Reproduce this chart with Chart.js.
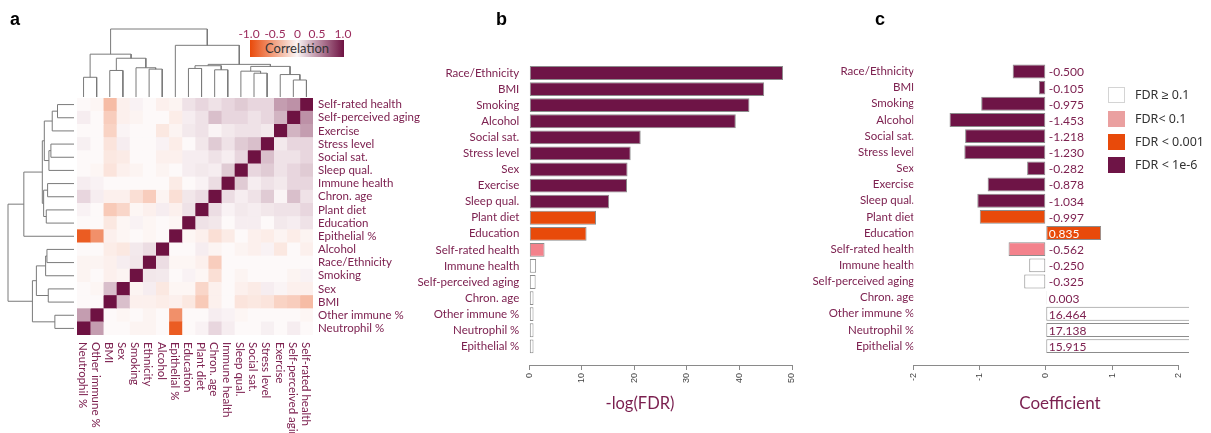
<!DOCTYPE html>
<html><head><meta charset="utf-8">
<script src="https://cdn.jsdelivr.net/npm/chart.js@4.4.1/dist/chart.umd.min.js"></script>
<style>
body{margin:0;background:#fff;width:1211px;height:433px;overflow:hidden;position:relative;font-family:Lato,sans-serif;}
canvas{position:absolute;}
.t{position:absolute;white-space:nowrap;line-height:1;}
.letter{font-family:"Liberation Sans",Arial,sans-serif;font-weight:bold;font-size:18px;color:#000;}
.axt{font-family:Lato,sans-serif;color:#7a1f4f;transform:translate(-50%,-50%);}
.cbt{font-family:Lato,sans-serif;font-size:12px;color:#9b2a5c;transform:translateX(-50%);}
.lgbox{position:absolute;width:17px;height:16px;box-sizing:border-box;}
.lgtxt{position:absolute;font-family:"Noto Sans",sans-serif;font-size:12.5px;color:#333;line-height:16px;white-space:nowrap;}
</style></head><body>
<canvas id="dTop" width="256" height="88" style="left:67px;top:19px"></canvas>
<canvas id="dLeft" width="84" height="257" style="left:0px;top:88px"></canvas>
<canvas id="heat" width="372" height="355" style="left:60px;top:78px"></canvas>
<canvas id="cb" width="410" height="433" style="left:400px;top:0px"></canvas>
<canvas id="cc" width="400" height="433" style="left:800px;top:0px"></canvas>

<div class="t letter" style="left:10px;top:10px">a</div>
<div class="t letter" style="left:496px;top:10px">b</div>
<div class="t letter" style="left:875px;top:10px">c</div>

<div style="position:absolute;left:250px;top:40px;width:94px;height:17px;background:linear-gradient(to right,rgb(233,74,10),rgb(250,244,244) 50%,rgb(110,18,66));"></div>
<div class="t" style="left:250px;top:42px;width:94px;text-align:center;font-family:Lato,sans-serif;font-size:13px;color:#333;">Correlation</div>
<div class="t cbt" style="left:249px;top:28px">-1.0</div>
<div class="t cbt" style="left:275px;top:28px">-0.5</div>
<div class="t cbt" style="left:297.5px;top:28px">0</div>
<div class="t cbt" style="left:317px;top:28px">0.5</div>
<div class="t cbt" style="left:343px;top:28px">1.0</div>

<div class="t axt" style="left:640px;top:403px;font-size:16.5px">-log(FDR)</div>
<div class="t axt" style="left:1060px;top:402px;font-size:17px">Coefficient</div>

<div class="lgbox" style="left:1108px;top:87px;background:#fff;border:1px solid #d4d4d4"></div>
<div class="lgtxt" style="left:1135px;top:87px">FDR ≥ 0.1</div>
<div class="lgbox" style="left:1108px;top:111px;background:#eaa0a0"></div>
<div class="lgtxt" style="left:1135px;top:111px">FDR&lt; 0.1</div>
<div class="lgbox" style="left:1108px;top:134px;background:#e84a0a"></div>
<div class="lgtxt" style="left:1135px;top:134px">FDR &lt; 0.001</div>
<div class="lgbox" style="left:1108px;top:157px;background:#6e1446"></div>
<div class="lgtxt" style="left:1135px;top:157px">FDR &lt; 1e-6</div>

<script>
// ---------- DATA ----------
// heatmap column order (left to right)
const heatVars = ['Neutrophil %','Other immune %','BMI','Sex','Smoking','Ethnicity','Alcohol','Epithelial %','Education','Plant diet','Chron. age','Immune health','Sleep qual.','Social sat.','Stress level','Exercise','Self-perceived aging','Self-rated health'];
// heatmap row labels (top to bottom)
const heatRowLabels = ['Self-rated health','Self-perceived aging','Exercise','Stress level','Social sat.','Sleep qual.','Immune health','Chron. age','Plant diet','Education','Epithelial %','Alcohol','Race/Ethnicity','Smoking','Sex','BMI','Other immune %','Neutrophil %'];
// correlation matrix, rows and columns in heatVars order
const corr = [
 [1,0.40,0,0,-0.03,-0.03,0,-0.90,0,0.03,0.15,0.05,0,0,0.04,0,0.05,0],
 [0.40,1,0,-0.02,0,-0.03,0,-0.60,0,0,0.05,0.03,-0.02,0,0,0,0,-0.02],
 [0,0,1,0.25,-0.05,-0.05,-0.07,-0.05,-0.10,-0.27,-0.05,0,-0.12,-0.10,-0.12,-0.22,-0.25,-0.35],
 [0,-0.02,0.25,1,-0.03,0.05,-0.10,-0.02,-0.02,-0.20,-0.05,0,-0.05,-0.08,0.05,0.02,-0.05,-0.05],
 [-0.03,0,-0.05,-0.03,1,0.08,0.07,0,0.03,-0.02,-0.15,0,-0.03,0,0,0,-0.03,0.03],
 [-0.03,-0.03,-0.05,0.05,0.08,1,0.12,-0.02,-0.02,-0.05,-0.25,0,0,0,0,0,0,0],
 [0,0,-0.07,-0.10,0.07,0.12,1,0,0,0.05,-0.03,0,-0.03,-0.05,0.03,-0.10,0,-0.05],
 [-0.90,-0.60,-0.05,-0.02,0,-0.02,0,1,-0.02,-0.05,-0.15,-0.08,0,-0.05,-0.07,-0.03,-0.07,-0.03],
 [0,0,-0.10,-0.02,0.03,-0.02,0,-0.02,1,0.10,0.08,0,0.05,0.05,0,0.07,0.05,0.10],
 [0.03,0,-0.27,-0.20,-0.02,-0.05,0.05,-0.05,0.10,1,0.12,0.03,0.07,0.05,0.08,0.10,0.10,0.15],
 [0.15,0.05,-0.05,-0.05,-0.15,-0.25,-0.03,-0.15,0.08,0.12,1,0.12,0.05,0.10,0.20,0.02,0.25,0.10],
 [0.05,0.03,0,0,0,0,0,-0.08,0,0.03,0.12,1,0.20,0.05,0.10,0.07,0.15,0.15],
 [0,-0.02,-0.12,-0.05,-0.03,0,-0.03,0,0.05,0.07,0.05,0.20,1,0.15,0.20,0.10,0.15,0.20],
 [0,0,-0.10,-0.08,0,0,-0.05,-0.05,0.05,0.05,0.10,0.05,0.15,1,0.25,0.10,0.10,0.15],
 [0.04,0,-0.12,0.05,0,0,0.03,-0.07,0,0.08,0.20,0.10,0.20,0.25,1,0.07,0.15,0.15],
 [0,0,-0.22,0.02,0,0,-0.10,-0.03,0.07,0.10,0.02,0.07,0.10,0.10,0.07,1,0.30,0.40],
 [0.05,0,-0.25,-0.05,-0.03,0,0,-0.07,0.05,0.10,0.25,0.15,0.15,0.10,0.15,0.30,1,0.45],
 [0,-0.02,-0.35,-0.05,0.03,0,-0.05,-0.03,0.10,0.15,0.10,0.15,0.20,0.15,0.15,0.40,0.45,1]
];
// hierarchical clustering linkage: [childA, childB, height]; ids 0-17 = heatVars, 18+ = earlier merges
const linkage = [
 [16,17,0.25],[0,1,0.29],[15,18,0.33],[13,14,0.35],[12,21,0.38],[2,3,0.39],
 [10,11,0.40],[5,6,0.41],[8,9,0.42],[4,25,0.43],[22,20,0.45],[26,24,0.46],
 [29,28,0.48],[23,27,0.57],[19,31,0.63],[7,30,0.76],[32,33,1.00]
];
// panel b / c
const fdrLabels = ['Race/Ethnicity','BMI','Smoking','Alcohol','Social sat.','Stress level','Sex','Exercise','Sleep qual.','Plant diet','Education','Self-rated health','Immune health','Self-perceived aging','Chron. age','Other immune %','Neutrophil %','Epithelial %'];
const negLogFDR = [48.3,44.7,41.9,39.3,21.2,19.3,18.7,18.6,15.2,12.7,10.9,2.9,1.3,1.2,0.8,0.8,0.8,0.8];
const coefficients = [-0.500,-0.105,-0.975,-1.453,-1.218,-1.230,-0.282,-0.878,-1.034,-0.997,0.835,-0.562,-0.250,-0.325,0.003,16.464,17.138,15.915];
const xTicksB = [0,10,20,30,40,50];
const xTicksC = [-2,-1,0,1,2];

// ---------- STYLE ----------
const labelColor = '#7d2150';
const PURPLE='#6e1446', ORANGE='#e84a0a', PINK='#f3828c', WHITE='#ffffff';
function fdrColor(nl){ const f=Math.exp(-nl); if(f<1e-6) return PURPLE; if(f<0.001) return ORANGE; if(f<0.1) return PINK; return WHITE; }
function corrColor(v){
  const w=[253,249,249], pos=[110,18,66], neg=[233,74,10];
  const t=Math.min(1,Math.abs(v)), e=v>=0?pos:neg;
  return 'rgb('+w.map((c,i)=>Math.round(c+(e[i]-c)*t)).join(',')+')';
}
const noUI = {legend:{display:false},tooltip:{enabled:false}};

// ---------- DENDROGRAMS ----------
function dendroSegments(){
  const pos=heatVars.map((_,j)=>j+0.5), hgt=heatVars.map(()=>0), segs=[];
  linkage.forEach(([a,b,h])=>{
    segs.push([[pos[a],hgt[a]],[pos[a],h],[pos[b],h],[pos[b],hgt[b]]]);
    pos.push((pos[a]+pos[b])/2); hgt.push(h);
  });
  return segs;
}
const segs = dendroSegments();
function dendro(id, top){
  new Chart(document.getElementById(id),{
    type:'scatter',
    data:{datasets:segs.map(s=>({data:s.map(([p,h])=>top?{x:p,y:h}:{x:h,y:p}),showLine:true,pointRadius:0,borderColor:'#7a7a7a',borderWidth:1,clip:false}))},
    options:{responsive:false,animation:false,events:[],plugins:noUI,
      layout:{padding:top?10:{left:8,right:10,top:10,bottom:10}},
      scales: top ? {x:{display:false,min:0,max:18},y:{display:false,min:0,max:1}}
                  : {x:{display:false,min:0,max:1,reverse:true},y:{display:false,min:0,max:18}}}
  });
}
dendro('dTop',true);
dendro('dLeft',false);

// ---------- HEATMAP ----------
const colLabels = {id:'colLabels', afterDraw(chart){
  const {ctx,chartArea}=chart, x=chart.scales.x;
  ctx.save(); ctx.font='11.5px Lato'; ctx.fillStyle=labelColor; ctx.textAlign='left'; ctx.textBaseline='middle';
  heatVars.forEach((name,j)=>{ ctx.save(); ctx.translate(x.getPixelForValue(j+0.5)-1, chartArea.bottom+7); ctx.rotate(Math.PI/2); ctx.fillText(name,0,0); ctx.restore(); });
  ctx.restore();
}};
new Chart(document.getElementById('heat'),{
  type:'bar',
  data:{labels:heatRowLabels, datasets:heatVars.map((name,j)=>({label:name,data:heatRowLabels.map(()=>1),
    backgroundColor:heatRowLabels.map((_,r)=>corrColor(corr[heatVars.length-1-r][j])),borderWidth:0,barPercentage:1,categoryPercentage:1}))},
  options:{indexAxis:'y',responsive:false,animation:false,events:[],plugins:noUI,
    layout:{padding:{left:17,top:20,right:4,bottom:98}},
    scales:{
      x:{stacked:true,display:false,min:0,max:18},
      y:{stacked:true,position:'right',grid:{display:false,drawTicks:false},border:{display:false},
         ticks:{color:labelColor,font:{family:'Lato',size:11.5},padding:5,autoSkip:false},afterFit(s){s.width=115;}}
    }},
  plugins:[colLabels]
});

// ---------- BAR PANELS ----------
function yScale(max,width,pad){
  return {type:'linear',reverse:true,min:-0.5,max:max,offset:false,
    afterBuildTicks(s){s.ticks=fdrLabels.map((_,i)=>({value:i}));},
    grid:{display:false,drawTicks:false,offset:false},border:{display:false},
    ticks:{autoSkip:false,callback:(v)=>fdrLabels[v],color:labelColor,font:{family:'Lato',size:11.5},padding:pad},
    afterFit(s){s.width=width;}};
}
function xScale(min,max,ticks){
  return {type:'linear',min:min,max:max,
    afterBuildTicks(s){s.ticks=ticks.map(v=>({value:v}));},
    grid:{display:true,drawOnChartArea:false,drawTicks:true,tickLength:5,color:'#8a8a8a'},
    border:{display:true,color:'#8a8a8a'},
    ticks:{minRotation:90,maxRotation:90,autoSkip:false,font:{family:'Liberation Sans',size:9},color:'#444',padding:3},
    afterFit(s){s.height=40;}};
}
new Chart(document.getElementById('cb'),{
  type:'bar',
  data:{datasets:[{data:fdrLabels.map((_,i)=>({x:negLogFDR[i],y:i})),backgroundColor:negLogFDR.map(fdrColor),
    borderColor:'#8c8c8c',borderWidth:1,borderSkipped:false,barPercentage:0.86,categoryPercentage:1,clip:false}]},
  options:{indexAxis:'y',responsive:false,animation:false,events:[],plugins:noUI,
    layout:{padding:{left:0,right:18,top:64.96,bottom:28}},
    scales:{x:xScale(0,50,xTicksB),y:yScale(18.16,129.3,10)}}
});

const valueLabels = {id:'valueLabels', afterDatasetsDraw(chart){
  const {ctx}=chart, x=chart.scales.x, y=chart.scales.y;
  ctx.save(); ctx.font='12px Lato'; ctx.textAlign='left'; ctx.textBaseline='middle';
  coefficients.forEach((v,i)=>{
    const filled = fdrColor(negLogFDR[i])!==WHITE;
    ctx.fillStyle = (v>0 && filled) ? '#ffffff' : labelColor;
    ctx.fillText(v.toFixed(3), x.getPixelForValue(0)+3, y.getPixelForValue(i)+1);
  });
  ctx.restore();
}};
new Chart(document.getElementById('cc'),{
  type:'bar',
  data:{datasets:[{data:fdrLabels.map((_,i)=>({x:coefficients[i],y:i})),backgroundColor:negLogFDR.map(fdrColor),
    borderColor:'#8c8c8c',borderWidth:1,borderSkipped:false,barPercentage:0.86,categoryPercentage:1,
    clip:{left:false,right:10.6,top:false,bottom:false}}]},
  options:{indexAxis:'y',responsive:false,animation:false,events:[],plugins:noUI,
    layout:{padding:{left:0,right:21.7,top:63.4,bottom:28}},
    scales:{x:xScale(-2,2,xTicksC),y:yScale(18.17,113.3,-1)}},
  plugins:[valueLabels]
});
</script>
</body></html>
